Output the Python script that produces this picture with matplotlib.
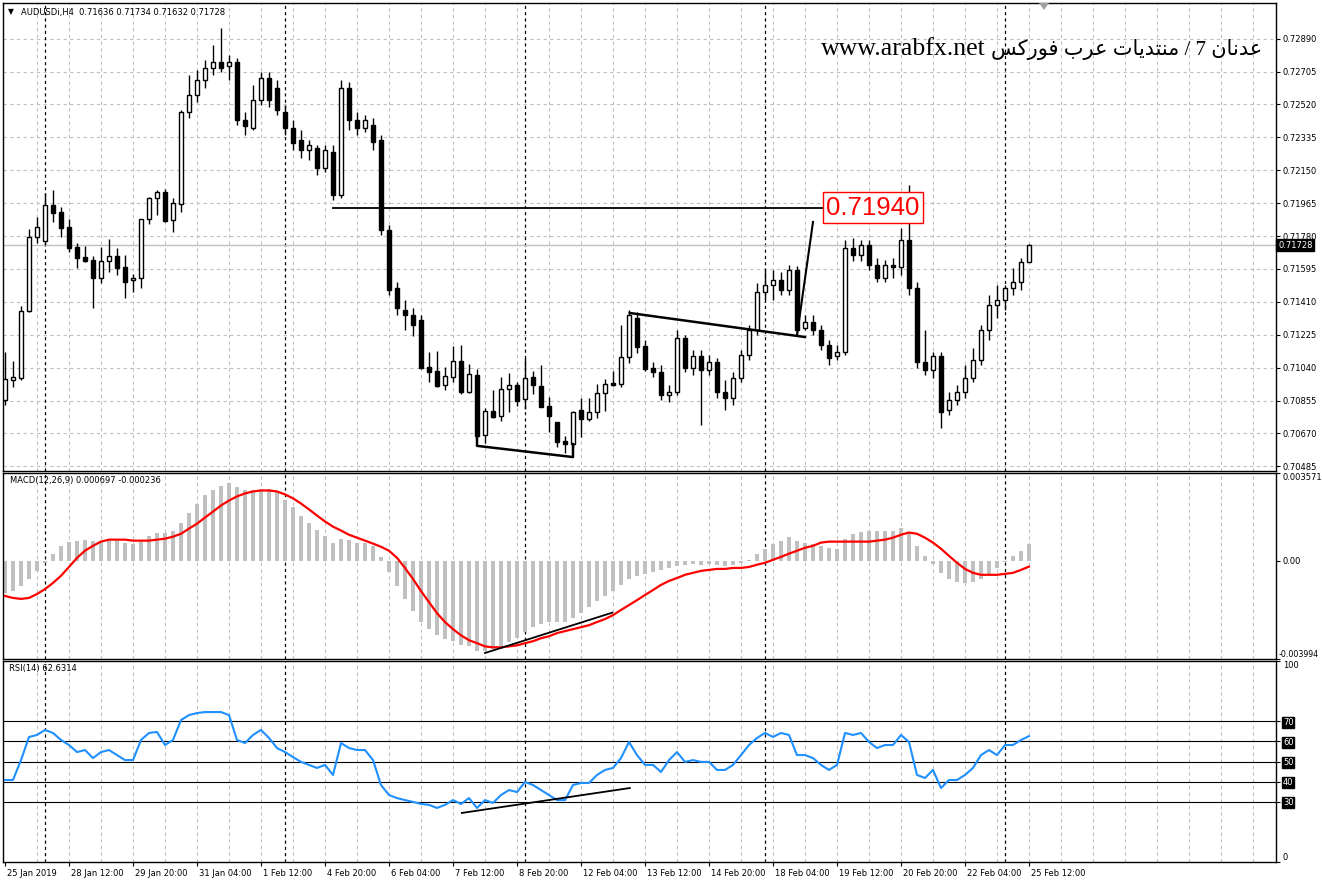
import matplotlib
matplotlib.use("Agg")
import matplotlib.pyplot as plt
from matplotlib.patches import Polygon, Rectangle
from matplotlib.transforms import ScaledTranslation
import numpy as np

# ---------------- data (AUDUSDi, H4) ----------------
open_ = [0.70858, 0.70970, 0.70981, 0.71358, 0.71775, 0.71752, 0.71954, 0.71915, 0.71831, 0.71718,
         0.71662, 0.71645, 0.71544, 0.71640, 0.71667, 0.71606, 0.71533, 0.71544, 0.71876, 0.71993,
         0.72027, 0.71870, 0.71960, 0.72477, 0.72573, 0.72657, 0.72725, 0.72758, 0.72736, 0.72758,
         0.72432, 0.72387, 0.72545, 0.72668, 0.72612, 0.72477, 0.72387, 0.72320, 0.72264, 0.72275,
         0.72162, 0.72252, 0.72011, 0.72612, 0.72432, 0.72387, 0.72404, 0.72320, 0.71814, 0.71488,
         0.71364, 0.71336, 0.71308, 0.71043, 0.71021, 0.70942, 0.70987, 0.71077, 0.70903, 0.70998,
         0.70661, 0.70796, 0.70768, 0.70920, 0.70942, 0.70864, 0.70987, 0.70937, 0.70824, 0.70734,
         0.70627, 0.70610, 0.70801, 0.70751, 0.70790, 0.70897, 0.70953, 0.70948, 0.71099, 0.71319,
         0.71161, 0.71038, 0.71015, 0.70886, 0.70903, 0.71206, 0.71038, 0.71105, 0.71026, 0.71071,
         0.70903, 0.70869, 0.70981, 0.71111, 0.71251, 0.71465, 0.71505, 0.71533, 0.71476, 0.71589,
         0.71263, 0.71296, 0.71251, 0.71167, 0.71105, 0.71128, 0.71713, 0.71673, 0.71730, 0.71617,
         0.71544, 0.71617, 0.71606, 0.71758, 0.71488, 0.71071, 0.71026, 0.71105, 0.70801, 0.70858,
         0.70903, 0.70981, 0.71083, 0.71251, 0.71392, 0.71420, 0.71488, 0.71521, 0.71636]
high = [0.71128, 0.71077, 0.71386, 0.71820, 0.71887, 0.72022, 0.72039, 0.71943, 0.71876, 0.71741,
        0.71724, 0.71667, 0.71718, 0.71763, 0.71713, 0.71673, 0.71566, 0.71876, 0.71999, 0.72039,
        0.72045, 0.71993, 0.72488, 0.72685, 0.72713, 0.72770, 0.72854, 0.72950, 0.72798, 0.72781,
        0.72477, 0.72629, 0.72702, 0.72702, 0.72657, 0.72517, 0.72432, 0.72376, 0.72320, 0.72292,
        0.72292, 0.72292, 0.72657, 0.72646, 0.72477, 0.72460, 0.72443, 0.72348, 0.71842, 0.71521,
        0.71420, 0.71375, 0.71336, 0.71128, 0.71133, 0.71043, 0.71161, 0.71167, 0.71060, 0.71032,
        0.70813, 0.70914, 0.70987, 0.71010, 0.70959, 0.71094, 0.71021, 0.71054, 0.70875, 0.70734,
        0.70655, 0.70796, 0.70869, 0.70869, 0.70948, 0.70976, 0.71021, 0.71279, 0.71364, 0.71353,
        0.71195, 0.71071, 0.71054, 0.70942, 0.71251, 0.71223, 0.71139, 0.71139, 0.71111, 0.71094,
        0.70970, 0.71015, 0.71139, 0.71279, 0.71516, 0.71589, 0.71589, 0.71578, 0.71617, 0.71611,
        0.71336, 0.71336, 0.71279, 0.71195, 0.71167, 0.71758, 0.71769, 0.71758, 0.71758, 0.71656,
        0.71645, 0.71656, 0.71825, 0.72067, 0.71521, 0.71251, 0.71128, 0.71128, 0.70903, 0.70942,
        0.71054, 0.71150, 0.71279, 0.71448, 0.71505, 0.71505, 0.71600, 0.71656, 0.71734]
low = [0.70830, 0.70931, 0.70970, 0.71353, 0.71741, 0.71730, 0.71859, 0.71775, 0.71690, 0.71600,
       0.71634, 0.71375, 0.71516, 0.71578, 0.71561, 0.71431, 0.71465, 0.71488, 0.71848, 0.71898,
       0.71859, 0.71803, 0.71915, 0.72443, 0.72534, 0.72612, 0.72685, 0.72702, 0.72657, 0.72404,
       0.72348, 0.72376, 0.72517, 0.72505, 0.72460, 0.72348, 0.72264, 0.72219, 0.72207, 0.72123,
       0.72140, 0.71982, 0.71993, 0.72376, 0.72348, 0.72365, 0.72264, 0.71786, 0.71448, 0.71336,
       0.71251, 0.71217, 0.71032, 0.70959, 0.70931, 0.70914, 0.70959, 0.70892, 0.70897, 0.70650,
       0.70616, 0.70757, 0.70740, 0.70790, 0.70824, 0.70807, 0.70892, 0.70818, 0.70678, 0.70594,
       0.70560, 0.70594, 0.70650, 0.70740, 0.70757, 0.70796, 0.70937, 0.70931, 0.71066, 0.71122,
       0.71021, 0.70987, 0.70858, 0.70846, 0.70886, 0.71015, 0.70998, 0.70717, 0.70998, 0.70869,
       0.70801, 0.70830, 0.70959, 0.71083, 0.71223, 0.71420, 0.71420, 0.71448, 0.71448, 0.71223,
       0.71251, 0.71223, 0.71139, 0.71054, 0.71083, 0.71111, 0.71640, 0.71640, 0.71589, 0.71524,
       0.71524, 0.71544, 0.71561, 0.71448, 0.71038, 0.70998, 0.70981, 0.70700, 0.70773, 0.70830,
       0.70869, 0.70959, 0.71054, 0.71195, 0.71319, 0.71364, 0.71448, 0.71476, 0.71632]
close = [0.70976, 0.70987, 0.71358, 0.71775, 0.71831, 0.71954, 0.71909, 0.71825, 0.71713, 0.71656,
         0.71640, 0.71544, 0.71640, 0.71667, 0.71600, 0.71521, 0.71544, 0.71876, 0.71993, 0.72027,
         0.71864, 0.71965, 0.72477, 0.72573, 0.72657, 0.72725, 0.72758, 0.72725, 0.72758, 0.72432,
         0.72398, 0.72545, 0.72668, 0.72545, 0.72488, 0.72387, 0.72303, 0.72264, 0.72292, 0.72162,
         0.72264, 0.72011, 0.72612, 0.72432, 0.72387, 0.72432, 0.72309, 0.71814, 0.71476, 0.71375,
         0.71336, 0.71279, 0.71038, 0.71015, 0.70936, 0.70993, 0.71077, 0.70903, 0.71004, 0.70655,
         0.70796, 0.70762, 0.70920, 0.70942, 0.70852, 0.70981, 0.70942, 0.70818, 0.70768, 0.70622,
         0.70610, 0.70790, 0.70751, 0.70790, 0.70897, 0.70948, 0.70942, 0.71099, 0.71336, 0.71156,
         0.71032, 0.71015, 0.70886, 0.70903, 0.71206, 0.71038, 0.71105, 0.71026, 0.71071, 0.70903,
         0.70869, 0.70981, 0.71111, 0.71251, 0.71465, 0.71505, 0.71533, 0.71476, 0.71589, 0.71251,
         0.71296, 0.71251, 0.71167, 0.71094, 0.71128, 0.71713, 0.71673, 0.71730, 0.71617, 0.71544,
         0.71617, 0.71606, 0.71758, 0.71488, 0.71071, 0.71026, 0.71105, 0.70790, 0.70858, 0.70903,
         0.70981, 0.71083, 0.71251, 0.71392, 0.71420, 0.71488, 0.71521, 0.71634, 0.71728]

macd_main = [-0.00131, -0.00123, -0.00102, -0.00074, -0.00041, -0.00008, 0.00029, 0.00061, 0.00078, 0.00082,
             0.00086, 0.00082, 0.00082, 0.00086, 0.00082, 0.00074, 0.00070, 0.00082, 0.00102, 0.00115,
             0.00115, 0.00123, 0.00155, 0.00196, 0.00233, 0.00266, 0.00286, 0.00303, 0.00315, 0.00299,
             0.00286, 0.00286, 0.00290, 0.00294, 0.00278, 0.00249, 0.00217, 0.00184, 0.00155, 0.00127,
             0.00102, 0.00074, 0.00090, 0.00086, 0.00074, 0.00074, 0.00061, 0.00016, -0.00045, -0.00102,
             -0.00155, -0.00204, -0.00249, -0.00278, -0.00303, -0.00319, -0.00327, -0.00344, -0.00348, -0.00368,
             -0.00368, -0.00360, -0.00348, -0.00331, -0.00315, -0.00290, -0.00270, -0.00258, -0.00249, -0.00249,
             -0.00249, -0.00233, -0.00213, -0.00188, -0.00164, -0.00143, -0.00123, -0.00098, -0.00074, -0.00061,
             -0.00053, -0.00045, -0.00037, -0.00029, -0.00020, -0.00016, -0.00012, -0.00016, -0.00012, -0.00016,
             -0.00020, -0.00016, -0.00008, 0.00004, 0.00029, 0.00049, 0.00070, 0.00082, 0.00098, 0.00082,
             0.00074, 0.00070, 0.00061, 0.00053, 0.00049, 0.00090, 0.00110, 0.00119, 0.00123, 0.00123,
             0.00123, 0.00123, 0.00135, 0.00115, 0.00061, 0.00020, -0.00012, -0.00049, -0.00074, -0.00086,
             -0.00090, -0.00086, -0.00074, -0.00053, -0.00029, -0.00004, 0.00020, 0.00041, 0.000697]
macd_signal = [-0.00143, -0.00151, -0.00155, -0.00151, -0.00135, -0.00115, -0.00090, -0.00061, -0.00025, 0.00012,
               0.00041, 0.00061, 0.00078, 0.00086, 0.00086, 0.00086, 0.00082, 0.00082, 0.00082, 0.00086,
               0.00090, 0.00098, 0.00110, 0.00131, 0.00151, 0.00176, 0.00200, 0.00225, 0.00245, 0.00262,
               0.00274, 0.00282, 0.00286, 0.00286, 0.00282, 0.00270, 0.00254, 0.00233, 0.00209, 0.00184,
               0.00160, 0.00139, 0.00123, 0.00106, 0.00094, 0.00082, 0.00070, 0.00057, 0.00041, 0.00012,
               -0.00029, -0.00074, -0.00123, -0.00168, -0.00213, -0.00249, -0.00278, -0.00303, -0.00323, -0.00335,
               -0.00348, -0.00352, -0.00352, -0.00348, -0.00344, -0.00335, -0.00327, -0.00315, -0.00307, -0.00294,
               -0.00286, -0.00278, -0.00270, -0.00262, -0.00249, -0.00237, -0.00221, -0.00200, -0.00180, -0.00160,
               -0.00139, -0.00119, -0.00098, -0.00082, -0.00070, -0.00057, -0.00049, -0.00041, -0.00037, -0.00033,
               -0.00033, -0.00029, -0.00029, -0.00025, -0.00016, -0.00008, 0.00004, 0.00016, 0.00029, 0.00041,
               0.00053, 0.00061, 0.00074, 0.00078, 0.00078, 0.00078, 0.00078, 0.00078, 0.00078, 0.00082,
               0.00086, 0.00094, 0.00106, 0.00115, 0.00110, 0.00094, 0.00074, 0.00049, 0.00020, -0.00008,
               -0.00033, -0.00049, -0.00057, -0.00057, -0.00057, -0.00053, -0.00049, -0.00037, -0.000236]
rsi = [40.8, 40.8, 50.7, 62.2, 63.2, 65.7, 64.2, 60.7, 58.2, 54.7,
       55.7, 51.7, 54.7, 55.7, 53.2, 50.7, 50.7, 60.7, 64.2, 64.7,
       58.2, 60.7, 70.6, 73.1, 74.1, 74.6, 74.6, 74.6, 73.1, 60.7,
       59.2, 63.2, 65.7, 61.7, 56.7, 54.7, 52.2, 49.8, 48.3, 46.8,
       48.3, 43.3, 59.2, 56.7, 55.7, 55.7, 50.7, 38.3, 33.3, 31.8,
       30.8, 29.9, 28.9, 28.4, 26.9, 28.4, 30.8, 28.9, 31.8, 26.9,
       30.8, 29.4, 33.3, 35.8, 34.8, 39.8, 38.3, 35.8, 33.3, 30.8,
       30.8, 38.3, 39.3, 39.3, 43.3, 45.8, 46.8, 51.7, 59.7, 53.2,
       48.3, 48.3, 44.8, 50.7, 54.7, 49.8, 50.7, 49.8, 49.8, 45.8,
       45.8, 48.3, 53.2, 58.2, 61.7, 64.2, 62.2, 64.2, 63.2, 53.2,
       53.2, 51.7, 48.3, 45.8, 48.3, 64.2, 63.2, 64.2, 59.7, 56.7,
       58.2, 58.2, 63.2, 59.7, 43.3, 41.8, 45.8, 36.8, 40.8, 40.8,
       43.3, 46.8, 53.2, 55.7, 53.2, 58.2, 58.2, 60.7, 62.6314]

price_tick_labels = ["0.72890", "0.72705", "0.72520", "0.72335", "0.72150", "0.71965", "0.71780",
                     "0.71595", "0.71410", "0.71225", "0.71040", "0.70855", "0.70670", "0.70485"]
x_tick_labels = ["25 Jan 2019", "28 Jan 12:00", "29 Jan 20:00", "31 Jan 04:00", "1 Feb 12:00",
                 "4 Feb 20:00", "6 Feb 04:00", "7 Feb 12:00", "8 Feb 20:00", "12 Feb 04:00",
                 "13 Feb 12:00", "14 Feb 20:00", "18 Feb 04:00", "19 Feb 12:00", "20 Feb 20:00",
                 "22 Feb 04:00", "25 Feb 12:00"]
week_starts = [5, 35, 65, 95, 125]          # bar index of Monday 00:00
macd_ticks = [0.003571, 0.0, -0.003994]
macd_tick_labels = ["0.003571", "0.00", "-0.003994"]
rsi_levels = [70, 60, 50, 40, 30]
last_price = 0.71728

# user drawn objects (bar index, value)
level_price = 0.71940
level_span = [41, 102.25]
label_box = [102.25, 114.75, 0.71853, 0.72027]
upper_trend = ([78.1, 100.0], [0.71347, 0.71212])
steep_line = ([99.0, 101.0], [0.71223, 0.71859])
lower_trend = ([59, 59, 71, 71], [0.70655, 0.70600, 0.70537, 0.70610])
macd_trend = ([60.0, 75.9], [-0.00375, -0.00211])
rsi_trend = ([57.1, 78.1], [24.4, 36.8])

# ---------------- figure ----------------
W, H, DPI = 1322, 884, 100
plt.rcParams['font.family'] = ['DejaVu Sans']
fig = plt.figure(figsize=(W / DPI, H / DPI), dpi=DPI, facecolor='white')


def px_axes(x0, y0, x1, y1):
    ax = fig.add_axes([x0 / W, 1 - y1 / H, (x1 - x0) / W, (y1 - y0) / H])
    for s in ax.spines.values():
        s.set_color('black')
        s.set_linewidth(1)
    return ax


ax_p = px_axes(3, 3, 1276, 471)
ax_m = px_axes(3, 473, 1276, 659)
ax_r = px_axes(3, 661, 1276, 862)

o = np.array(open_); h = np.array(high); l = np.array(low); c = np.array(close)
idx = np.arange(len(c))
GRID = '#c0c0c0'
DASH = (0, (3, 3))

for ax in (ax_p, ax_m, ax_r):
    ax.set_xlim(-0.25, 158.875)
    for g in range(4, 159, 4):
        ax.axvline(g, color=GRID, lw=0.8, ls=DASH, zorder=0)
    for s in week_starts:
        ax.axvline(s, color='black', lw=0.9, ls=(0, (2.5, 2.5)), zorder=0.6)
    ax.yaxis.tick_right()
    ax.tick_params(axis='y', right=True, left=False, length=3, width=0.8, pad=2,
                   labelsize=6, colors='black')
    ax.tick_params(axis='x', bottom=False, labelbottom=False)

# ---- price panel ----
price_ticks = [float(t) for t in price_tick_labels]
ax_p.set_ylim(0.704586, 0.730902)
ax_p.set_yticks(price_ticks)
ax_p.set_yticklabels(price_tick_labels)
for t in price_ticks:
    ax_p.axhline(t, color=GRID, lw=0.8, ls=DASH, zorder=0)
ax_p.axhline(last_price, color='#c0c0c0', lw=1, zorder=0.8)

bull = c >= o
ax_p.vlines(idx, l, h, color='black', lw=1, zorder=2)
ax_p.bar(idx, np.abs(c - o), bottom=np.minimum(o, c), width=0.55,
         color=np.where(bull, 'white', 'black'), edgecolor='black', linewidth=1, zorder=3)

ax_p.annotate("0.71728", xy=(1, last_price), xycoords=('axes fraction', 'data'),
              xytext=(1.5, 0), textcoords='offset points', ha='left', va='center',
              fontsize=6, color='white',
              bbox=dict(boxstyle='square,pad=0.2', fc='black', ec='black'), annotation_clip=False)

# drawn objects
ax_p.plot(level_span, [level_price, level_price], color='black', lw=1.3, zorder=4)
ax_p.add_patch(Rectangle((label_box[0], label_box[2]), label_box[1] - label_box[0],
                         label_box[3] - label_box[2], fc='white', ec='red', lw=1, zorder=5))
ax_p.text((label_box[0] + label_box[1]) / 2, 0.71898, "0.71940", ha='center', va='baseline',
          color='red', fontsize=18.5, family=['Liberation Sans', 'DejaVu Sans'], zorder=6)
ax_p.plot(*upper_trend, color='black', lw=1.8, zorder=4)
ax_p.plot(*steep_line, color='black', lw=1.5, zorder=4)
ax_p.plot(*lower_trend, color='black', lw=1.8, zorder=4)

# ---- MACD panel ----
ax_m.set_ylim(-0.003994, 0.003571)
ax_m.bar(idx, macd_main, width=0.4, color='#c0c0c0', zorder=2)
ax_m.plot(idx, macd_signal, color='red', lw=1.6, zorder=3)
ax_m.plot(*macd_trend, color='black', lw=1.3, zorder=4)
ax_m.set_yticks(macd_ticks)
ax_m.set_yticklabels(macd_tick_labels)
tl = ax_m.get_yticklabels()
tl[0].set_va('top'); tl[2].set_va('bottom')
tl[2].set_fontsize(5.7)
tl[2].set_transform(tl[2].get_transform() + ScaledTranslation(-4 / DPI, 0, fig.dpi_scale_trans))

# ---- RSI panel ----
ax_r.set_ylim(0, 100)
for lv in rsi_levels:
    ax_r.axhline(lv, color='black', lw=0.8, zorder=1)
ax_r.plot(idx, rsi, color='#1e90ff', lw=1.5, zorder=3)
ax_r.plot(*rsi_trend, color='black', lw=1.3, zorder=4)
ax_r.set_yticks([100] + rsi_levels + [0])
ax_r.set_yticklabels(['100'] + [str(v) for v in rsi_levels] + ['0'])
rl = ax_r.get_yticklabels()
rl[0].set_va('top'); rl[-1].set_va('bottom')
for lab in rl[1:-1]:
    lab.set_color('white')
    lab.set_bbox(dict(boxstyle='square,pad=0.1', fc='black', ec='black'))

ax_r.set_xticks(range(0, 129, 8))
ax_r.set_xticklabels(x_tick_labels)
ax_r.tick_params(axis='x', bottom=True, labelbottom=True, length=3, width=0.8, pad=2,
                 labelsize=6, colors='black')
for lab in ax_r.get_xticklabels():
    lab.set_ha('left')
    lab.set_transform(lab.get_transform() + ScaledTranslation(2 / DPI, 0, fig.dpi_scale_trans))

# ---- texts ----
fig.text(8 / W, 1 - 12 / H, "\u25BC", fontsize=5.5, ha='left', va='center', color='black')
fig.text(21 / W, 1 - 12 / H, "AUDUSDi,H4  0.71636 0.71734 0.71632 0.71728", fontsize=6,
         ha='left', va='center', color='black')
fig.text(10 / W, 1 - 481 / H, "MACD(12,26,9) 0.000697 -0.000236", fontsize=6,
         ha='left', va='center', color='black')
fig.text(9 / W, 1 - 669 / H, "RSI(14) 62.6314", fontsize=6, ha='left', va='center', color='black')

# Arabic watermark: contextual shaping + visual (right-to-left) order
FORMS = {
    'ع': ('\uFEC9', '\uFECA', '\uFECB', '\uFECC'), 'د': ('\uFEA9', '\uFEAA', None, None),
    'ن': ('\uFEE5', '\uFEE6', '\uFEE7', '\uFEE8'), 'ا': ('\uFE8D', '\uFE8E', None, None),
    'م': ('\uFEE1', '\uFEE2', '\uFEE3', '\uFEE4'), 'ت': ('\uFE95', '\uFE96', '\uFE97', '\uFE98'),
    'ي': ('\uFEF1', '\uFEF2', '\uFEF3', '\uFEF4'), 'ر': ('\uFEAD', '\uFEAE', None, None),
    'ب': ('\uFE8F', '\uFE90', '\uFE91', '\uFE92'), 'ف': ('\uFED1', '\uFED2', '\uFED3', '\uFED4'),
    'و': ('\uFEED', '\uFEEE', None, None), 'ك': ('\uFED9', '\uFEDA', '\uFEDB', '\uFEDC'),
    'س': ('\uFEB1', '\uFEB2', '\uFEB3', '\uFEB4'),
}


def shape(text):
    out = []
    for i, ch in enumerate(text):
        f = FORMS.get(ch)
        if f is None:
            out.append(ch)
            continue
        pj = i > 0 and text[i - 1] in FORMS and FORMS[text[i - 1]][2] is not None
        nj = i < len(text) - 1 and text[i + 1] in FORMS and f[2] is not None
        out.append(f[3] if (pj and nj) else f[1] if pj else f[2] if nj else f[0])
    return ''.join(out)


arabic = "عدنان 7 / منتديات عرب فوركس"
fig.text(1262 / W, 1 - 55 / H, shape(arabic)[::-1], fontsize=15, ha='right', va='baseline',
         color='black', family=['Liberation Serif', 'DejaVu Sans'])
fig.text(986 / W, 1 - 55 / H, "www.arabfx.net", fontsize=18.5, ha='right', va='baseline',
         color='black', family=['Liberation Serif', 'DejaVu Serif'])

# chart-shift marker
fig.patches.append(Polygon([(1039 / W, 1 - 3 / H), (1049 / W, 1 - 3 / H), (1044 / W, 1 - 10 / H)],
                           closed=True, transform=fig.transFigure, fc='#a0a0a0', ec='none'))

fig.savefig("out.png", dpi=DPI, facecolor='white')
